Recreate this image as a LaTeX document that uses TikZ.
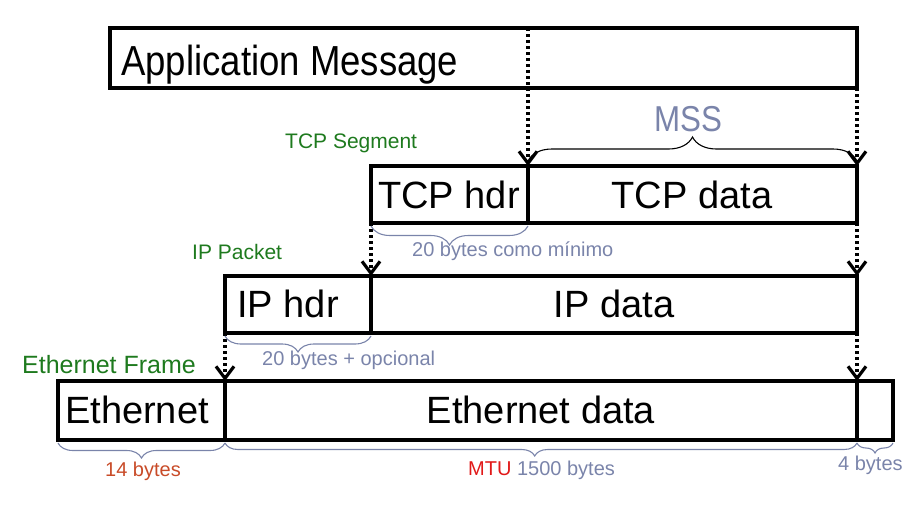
\documentclass[tikz,border=0pt]{standalone}
\usepackage{fontspec}
\setmainfont{Liberation Sans}
\newfontfamily\condfont[FakeStretch=0.87]{Liberation Sans}
\usetikzlibrary{arrows.meta,decorations.pathreplacing}
\definecolor{gblue}{RGB}{122,132,170}
\definecolor{dgreen}{RGB}{30,122,30}
\definecolor{orred}{RGB}{200,75,40}
\definecolor{mtured}{RGB}{225,25,25}
\begin{document}
\begin{tikzpicture}[x=1pt,y=-1pt,
  box/.style={draw,line width=4.5pt,minimum height=57pt,inner sep=0pt,outer sep=0pt,anchor=north west},
  big/.style={inner sep=0pt,anchor=base,font=\fontsize{38}{40}\selectfont},
  grn/.style={inner sep=0pt,anchor=base west,text=dgreen},
  sml/.style={inner sep=0pt,anchor=base west,text=gblue,font=\fontsize{20}{22}\selectfont},
  dotarrow/.style={line width=3.3pt,dash pattern=on 3pt off 3pt,-{Straight Barb[length=12pt,width=18pt,line width=3.2pt]}},
  brc/.style={gblue,line width=1.1pt,decorate}]
\useasboundingbox (0,0) rectangle (913,517);
% boxes
\node[box,minimum width=747pt,minimum height=60pt] (app) at (110,28) {};
\node[box,minimum width=157pt] (tcph) at (371,166) {};
\node[box,minimum width=329pt] (tcpd) at (528,166) {};
\node[box,minimum width=146pt] (iph) at (225,276) {};
\node[box,minimum width=486pt] (ipd) at (371,276) {};
\node[box,minimum width=167pt,minimum height=59pt] (eth) at (58,381) {};
\node[box,minimum width=632pt,minimum height=59pt] (ethd) at (225,381) {};
\node[box,minimum width=36pt,minimum height=59pt] (fcs) at (857,381) {};
% texts
\node[inner sep=0pt,anchor=base west,font=\condfont\fontsize{42}{44}\selectfont] (tapp) at (121,75) {Application Message};
\node[big] (ttcph) at (449,208) {TCP hdr};
\node[big] (ttcpd) at (692,208) {TCP data};
\node[big] (tiph) at (288,317) {IP hdr};
\node[big] (tipd) at (614,317) {IP data};
\node[big] (teth) at (137,423) {Ethernet};
\node[big] (tethd) at (541,423) {Ethernet data};
\node[inner sep=0pt,anchor=base,text=gblue,font=\condfont\fontsize{36}{38}\selectfont] (mss) at (688,131) {MSS};
\node[grn,font=\fontsize{21}{23}\selectfont] (lseg) at (285,148) {TCP Segment};
\node[grn,font=\fontsize{21}{23}\selectfont] (lpkt) at (192,259) {IP Packet};
\node[grn,font=\fontsize{25}{27}\selectfont] (lfrm) at (22,373) {Ethernet Frame};
\node[sml] (l20a) at (412,256) {20 bytes como mínimo};
\node[sml] (l20b) at (262,365) {20 bytes + opcional};
\node[sml,text=orred] (l14) at (105,476) {14 bytes};
\node[sml] (lmtu) at (468,475) {\textcolor{mtured}{MTU} 1500 bytes};
\node[sml] (l4) at (838,470) {4 bytes};
% dotted arrows
\draw[dotarrow] (tcpd.north west |- app.north) -- (tcpd.north west);
\draw[dotarrow] (app.south east) -- (tcpd.north east);
\draw[dotarrow] (tcph.south west) -- (iph.north east);
\draw[dotarrow] (tcpd.south east) -- (ipd.north east);
\draw[dotarrow] (iph.south west) -- (eth.north east);
\draw[dotarrow] (ipd.south east) -- (ethd.north east);
% braces
\draw[brc,black,decoration={brace,amplitude=24pt}] ([yshift=5pt]tcpd.north west) -- ([yshift=5pt]tcpd.north east);
\draw[brc,decoration={brace,amplitude=19pt}] ([yshift=-3pt]tcph.south east) -- ([yshift=-3pt]tcph.south west);
\draw[brc,decoration={brace,amplitude=16pt}] ([yshift=-3pt]iph.south east) -- ([yshift=-3pt]iph.south west);
\draw[brc,decoration={brace,amplitude=15pt}] ([yshift=-3pt]eth.south east) -- ([yshift=-3pt]eth.south west);
\draw[brc,decoration={brace,amplitude=13pt,aspect=0.51}] ([yshift=-3pt]ethd.south east) -- ([yshift=-3pt]ethd.south west);
\draw[brc,decoration={brace,amplitude=10pt}] ([yshift=-3pt]fcs.south east) -- ([yshift=-3pt]fcs.south west);
\end{tikzpicture}
\end{document}
